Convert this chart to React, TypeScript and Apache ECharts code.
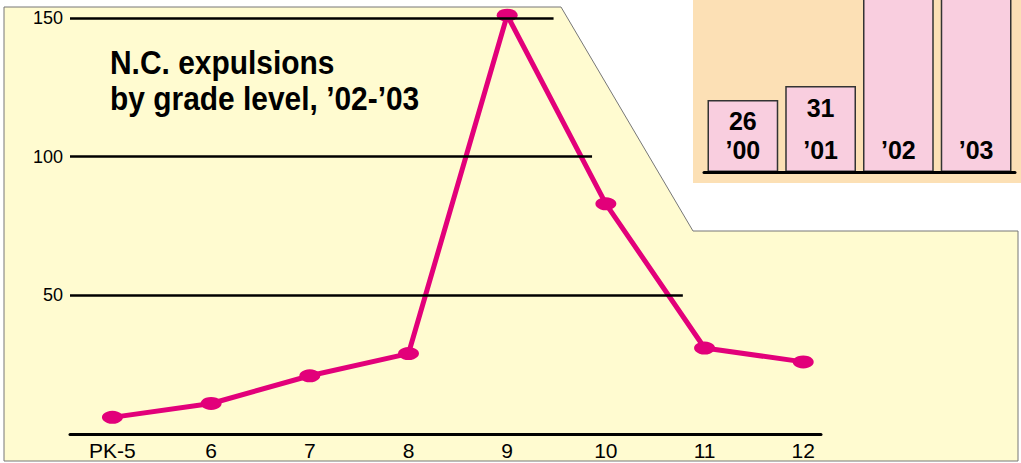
import React, { useEffect, useRef } from "react";
import * as echarts from "echarts";

const grades = ["PK-5", "6", "7", "8", "9", "10", "11", "12"];
const expulsions = [6, 11, 21, 29, 151, 83, 31, 26];
const yTicks = [50, 100, 150];
const gridLevels = [150, 100, 50];
const gridLineEnds = [4.47, 4.86, 5.78];
const years = ["’00", "’01", "’02", "’03"];
const yearValues = [26, 31, 300, 358];
const yearLabelShown = [true, true, false, false];

const FONT = "'Liberation Sans', Arial, Helvetica, sans-serif";

export default function App() {
  const ref = useRef<HTMLDivElement>(null);
  useEffect(() => {
    if (!ref.current) return;
    const chart = echarts.init(ref.current, null, { renderer: "svg" });
    const xMin = -0.43;
    const option: any = {
      animation: false,
      backgroundColor: "#ffffff",
      graphic: [
        {
          type: "polygon",
          z: 0,
          shape: {
            points: [
              [4, 7],
              [561, 7],
              [693, 231],
              [1018, 231],
              [1018, 461],
              [4, 461],
            ],
          },
          style: { fill: "#FFFBD0", stroke: "#777777", lineWidth: 1 },
          silent: true,
        },
        {
          type: "rect",
          z: 0,
          shape: { x: 693, y: 0, width: 328, height: 183 },
          style: { fill: "#FCE0B5" },
          silent: true,
        },
        {
          type: "text",
          z: 10,
          x: 110,
          y: 44,
          scaleX: 0.88,
          style: {
            text: "N.C. expulsions\nby grade level, ’02-’03",
            font: "bold 34px " + FONT,
            lineHeight: 36,
            fill: "#000",
            verticalAlign: "top",
          },
          silent: true,
        },
      ],
      grid: [
        { left: 70, top: 18, width: 751, height: 416, outerBoundsMode: "none", containLabel: false },
        { left: 704, top: -10, width: 311, height: 182, outerBoundsMode: "none", containLabel: false },
      ],
      xAxis: [
        {
          type: "value",
          gridIndex: 0,
          min: xMin,
          max: 7.18,
          axisLine: { show: true, lineStyle: { color: "#000", width: 3 } },
          axisTick: { show: false },
          splitLine: { show: false },
          axisLabel: {
            customValues: grades.map((_, i) => i),
            formatter: (v: number) => grades[Math.round(v)] ?? "",
            color: "#000",
            fontSize: 21,
            fontFamily: FONT,
            margin: 6,
          },
        },
        {
          type: "category",
          gridIndex: 1,
          data: years,
          axisLine: { show: true, lineStyle: { color: "#000", width: 3 } },
          axisTick: { show: false },
          axisLabel: {
            inside: true,
            margin: 10,
            color: "#000",
            fontSize: 25,
            fontWeight: "bold",
            fontFamily: FONT,
            lineHeight: 25,
          },
          z: 10,
        },
      ],
      yAxis: [
        {
          type: "value",
          gridIndex: 0,
          min: 0,
          max: 150,
          interval: 50,
          axisLine: { show: false },
          axisTick: { show: false },
          splitLine: { show: false },
          axisLabel: {
            customValues: yTicks,
            color: "#000",
            fontSize: 18,
            fontFamily: FONT,
            margin: 7,
          },
        },
        {
          type: "value",
          gridIndex: 1,
          min: 0,
          max: 65.7,
          show: false,
        },
      ],
      series: [
        {
          type: "line",
          xAxisIndex: 0,
          yAxisIndex: 0,
          data: [],
          z: 1,
          silent: true,
          markLine: {
            silent: true,
            symbol: "none",
            label: { show: false },
            lineStyle: { color: "#000", width: 2.5, type: "solid" },
            data: gridLevels.map((lv, i) => [
              { coord: [xMin, lv] },
              { coord: [gridLineEnds[i], lv] },
            ]),
          },
        },
        {
          type: "line",
          xAxisIndex: 0,
          yAxisIndex: 0,
          z: 3,
          data: expulsions.map((v, i) => [i, v]),
          symbol: "circle",
          symbolSize: [21, 13],
          lineStyle: { color: "#E2007A", width: 5 },
          itemStyle: { color: "#E2007A" },
          clip: false,
        },
        {
          type: "bar",
          xAxisIndex: 1,
          yAxisIndex: 1,
          clip: true,
          barCategoryGap: "9%",
          data: yearValues.map((v, i) => ({
            value: v,
            label: { show: yearLabelShown[i] },
          })),
          itemStyle: {
            color: "#F9CEDF",
            borderColor: "#333",
            borderWidth: 1.5,
          },
          label: {
            show: true,
            position: "insideTop",
            distance: 9,
            color: "#000",
            fontSize: 25,
            fontWeight: "bold",
            fontFamily: FONT,
          },
        },
      ],
    };
    chart.setOption(option);
    return () => chart.dispose();
  }, []);
  return (
    <div
      ref={ref}
      style={{ position: "fixed", left: 0, top: 0, width: 1021, height: 463 }}
    />
  );
}
